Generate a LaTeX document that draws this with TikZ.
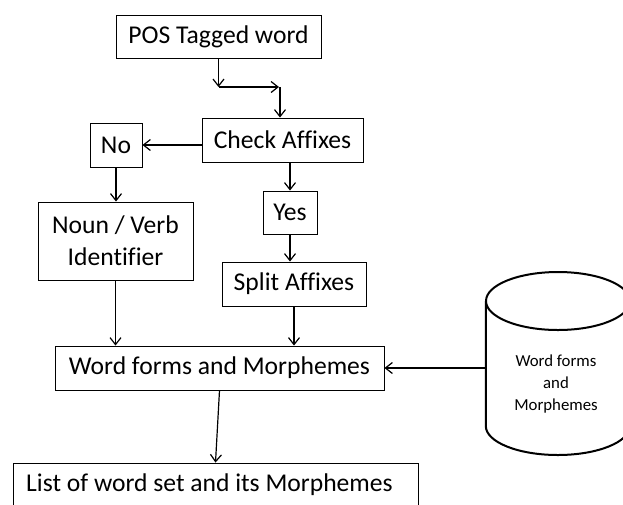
\documentclass[tikz,border=0pt]{standalone}
\usepackage{fontspec}
\setmainfont{Carlito}[Ligatures={NoCommon}]
\usetikzlibrary{arrows.meta}
\tikzset{
  procbox/.style={draw, line width=0.9pt, inner sep=0pt, align=center,
    font=\fontsize{25.6}{32}\selectfont},
  flow/.style={line width=1.2pt, -{Straight Barb[length=7pt,width=11pt,line width=1.2pt]}},
  dbline/.style={line width=2pt},
}
\begin{document}
\begin{tikzpicture}[x=1pt,y=-1pt]
\useasboundingbox (0,0) rectangle (623,504);

% process boxes
\node[procbox, minimum width=205pt, minimum height=43pt] (pos) at (218.5,36.5) {POS Tagged word};
\node[procbox, minimum width=161pt, minimum height=44pt] (check) at (282.5,140) {Check Affixes};
\node[procbox, minimum width=52pt, minimum height=44pt] (no) at (116,145) {No};
\node[procbox, minimum width=155pt, minimum height=78pt] (noun) at (115.5,241) {Noun / Verb\\Identifier};
\node[procbox, minimum width=54pt, minimum height=43pt] (yes) at (290,212.5) {Yes};
\node[procbox, minimum width=144pt, minimum height=44pt] (split) at (294,284) {Split Affixes};
\node[procbox, minimum width=329pt, minimum height=44pt] (word) at (219.5,368) {Word forms and Morphemes};
\node[procbox, minimum width=405pt, minimum height=44pt] (list) at (215.5,485) {List of word set and its Morphemes\hspace*{12pt}};

% database cylinder
\node[minimum width=144pt, minimum height=184pt, inner sep=0pt] (db) at (558,363) {};
\draw[dbline] (db.west |- 0,301) -- (db.west |- 0,426)
  arc[start angle=180, end angle=360, x radius=72pt, y radius=29pt]
  -- (db.east |- 0,301);
\draw[dbline] (db.center |- 0,301) ellipse [x radius=72pt, y radius=29pt];
\node[align=center, font=\fontsize{16.8}{22}\selectfont] (dbtext) at (556,384)
  {Word forms\\and\\Morphemes};

% connectors
\coordinate (bend1) at (218.5,87);
\coordinate (bend2) at (280,87);
\draw[flow] (pos.south) -- (bend1);
\draw[flow] (bend1) -- (bend2 -| 279,0);
\draw[flow] (bend2) -- (bend2 |- check.north);
\draw[flow] (check.west |- no.east) -- (no.east);
\draw[flow] (no.south) -- (no.south |- noun.north);
\draw[flow] (check.south -| yes.north) -- (yes.north);
\draw[flow] (yes.south) -- (yes.south |- split.north);
\draw[flow] (noun.south) -- (noun.south |- word.north);
\draw[flow] (split.south) -- (split.south |- word.north);
\draw[flow] (db.west |- word.east) -- (word.east);
\draw[flow] (word.south) -- (list.north);
\end{tikzpicture}
\end{document}
